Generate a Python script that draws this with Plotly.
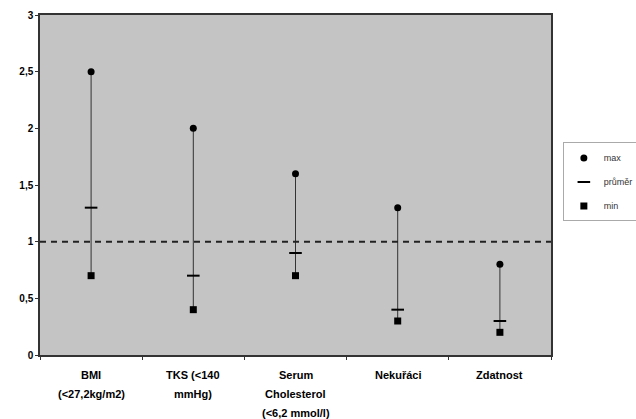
import plotly.graph_objects as go

categories = ["BMI", "TKS", "Serum", "Nekuřáci", "Zdatnost"]
label_lines = [
    ["BMI", "(<27,2kg/m2)"],
    ["TKS (<140", "mmHg)"],
    ["Serum", "Cholesterol", "(<6,2 mmol/l)"],
    ["Nekuřáci"],
    ["Zdatnost"],
]
max_vals = [2.5, 2.0, 1.6, 1.3, 0.8]
mean_vals = [1.3, 0.7, 0.9, 0.4, 0.3]
min_vals = [0.7, 0.4, 0.7, 0.3, 0.2]
ref_value = 1.0
y_ticks = [0, 0.5, 1, 1.5, 2, 2.5, 3]

fig = go.Figure()

lx, ly = [], []
for c, lo, hi in zip(categories, min_vals, max_vals):
    lx += [c, c, None]
    ly += [lo, hi, None]
fig.add_trace(go.Scatter(x=lx, y=ly, mode="lines", line=dict(color="#333333", width=1),
                         showlegend=False, hoverinfo="skip"))

fig.add_trace(go.Scatter(x=categories, y=max_vals, mode="markers", name="max",
                         legendgroup="g1",
                         marker=dict(symbol="circle", size=7, color="black")))
fig.add_trace(go.Scatter(x=categories, y=mean_vals, mode="markers", name="průměr",
                         legendgroup="g2",
                         marker=dict(symbol="line-ew", size=9, color="black",
                                     line=dict(color="black", width=2))))
fig.add_trace(go.Scatter(x=categories, y=min_vals, mode="markers", name="min",
                         legendgroup="g3",
                         marker=dict(symbol="square", size=7, color="black")))

fig.add_shape(type="line", xref="paper", yref="y", x0=0, x1=1, y0=ref_value, y1=ref_value,
              line=dict(color="#222222", width=2, dash="6px,5px"))

for c, lines in zip(categories, label_lines):
    for i, t in enumerate(lines):
        fig.add_annotation(x=c, y=0, xref="x", yref="paper", text=t, showarrow=False,
                           yanchor="top", yshift=-12 - 19 * i,
                           font=dict(size=11, color="black", weight="bold"))

fig.update_layout(
    width=636, height=419,
    margin=dict(l=40, r=85, t=15, b=64, autoexpand=False),
    paper_bgcolor="white",
    plot_bgcolor="#c4c4c4",
    separators=", ",
    font=dict(family="Liberation Sans, Arial, sans-serif", size=10, color="black"),
    legend=dict(xref="container", yref="container", x=0.885, y=0.66,
                xanchor="left", yanchor="top",
                bgcolor="white", bordercolor="#aaaaaa", borderwidth=1,
                font=dict(size=9, color="#333333"), itemwidth=30,
                tracegroupgap=5),
    xaxis=dict(type="category", categoryorder="array", categoryarray=categories,
               range=[-0.5, len(categories) - 0.5],
               showgrid=False, showline=True, linecolor="#333333", linewidth=1.5,
               mirror=True, ticks="outside", ticklen=3, tickson="boundaries",
               tickcolor="#333333", showticklabels=False, zeroline=False),
    yaxis=dict(range=[0, 3], tickvals=y_ticks, showgrid=False, showline=True,
               linecolor="#333333", linewidth=1.5, mirror=True, ticks="outside",
               ticklen=3, tickcolor="#333333", zeroline=False,
               tickfont=dict(size=10, color="black", weight="bold")),
)

fig.write_html("out.html")
